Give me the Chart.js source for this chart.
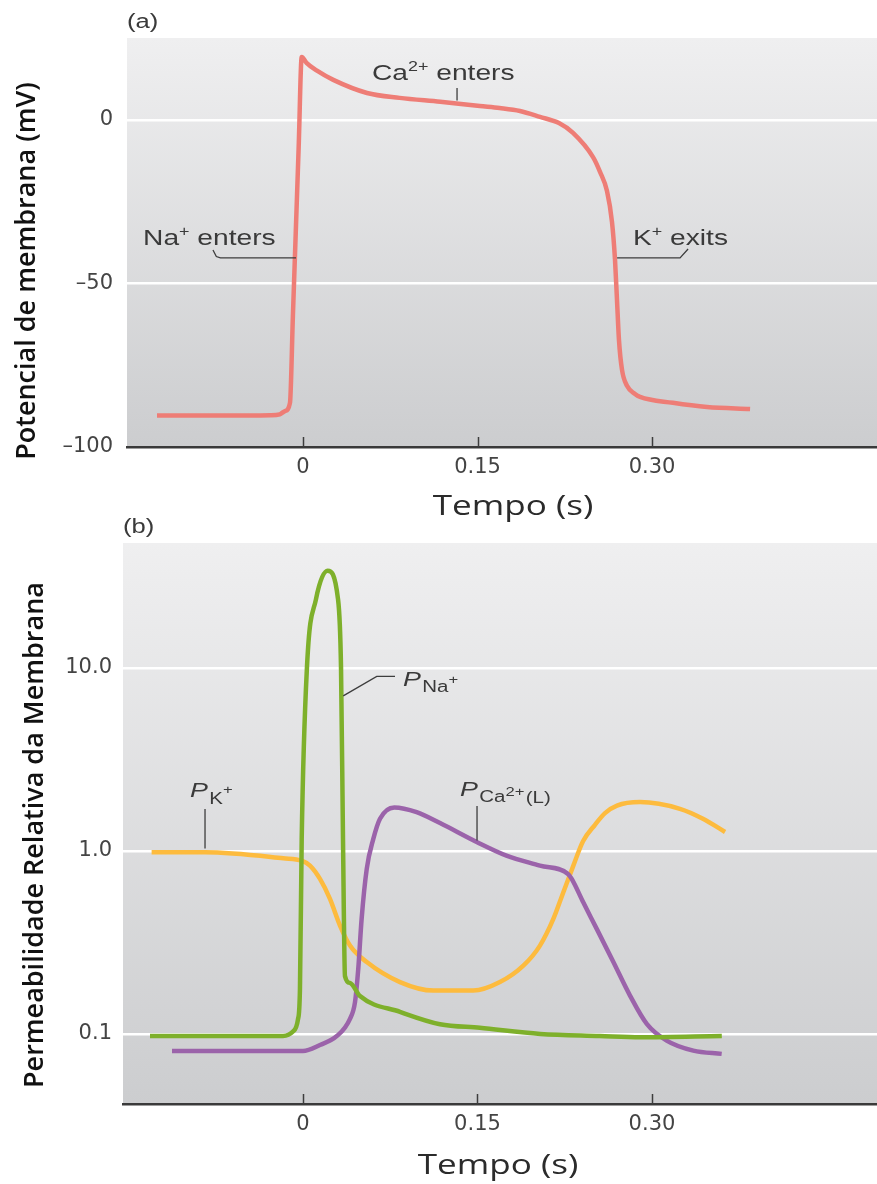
<!DOCTYPE html>
<html>
<head>
<meta charset="utf-8">
<title>Potencial de ação e permeabilidade</title>
<script src="https://cdn.jsdelivr.net/npm/chart.js@4.4.0/dist/chart.umd.min.js"></script>
<style>
  html, body { margin: 0; padding: 0; background: #fff; }
  .panel { position: absolute; left: 0; width: 877px; }
  canvas { display: block; }
</style>
</head>
<body>
<div class="panel" style="top:0;height:530px"><canvas id="chartA" width="877" height="530"></canvas></div>
<div class="panel" style="top:505px;height:679px"><canvas id="chartB" width="877" height="679"></canvas></div>
<script>
// Panel (a): membrane potential (mV) over time (s)
const timeA = [-0.1255, -0.07, -0.028, -0.02, -0.0155, -0.0112, -0.0087, -0.0062, -0.0037, -0.0011, 0.003, 0.012, 0.026, 0.055, 0.083, 0.118, 0.152, 0.169, 0.1865, 0.2037, 0.22, 0.2321, 0.2493, 0.2553, 0.2613, 0.2656, 0.2682, 0.2699, 0.2716, 0.2742, 0.2785, 0.2854, 0.2897, 0.318, 0.3473, 0.3843];
const potential = [-90.4, -90.4, -90.3, -90, -89, -86.5, -60, -34, -8, 19.2, 17.4, 15, 12.2, 8.2, 6.7, 5.5, 4.2, 3.6, 2.7, 0.9, -1, -4, -11.4, -15.9, -21.75, -31.2, -42.8, -55.1, -67.3, -76.4, -81.3, -83.8, -84.7, -86.5, -87.8, -88.4];
const yTicksA = [-100, -50, 0];
const yTickLabelsA = ['\u2013100', '\u201350', '0'];

// Panel (b): relative membrane permeabilities (log scale)
const timeNa = [-0.1315, -0.05, -0.0172, -0.0086, -0.0043, -0.0026, -0.0011, 0.0034, 0.0112, 0.0212, 0.0301, 0.0327, 0.0344, 0.0361, 0.0404, 0.049, 0.0834, 0.1178, 0.152, 0.204, 0.255, 0.29, 0.36];
const permNa = [0.0975, 0.0975, 0.0975, 0.103, 0.12, 0.176, 1.16, 10, 23.8, 34, 23.8, 10, 1.16, 0.207, 0.19, 0.161, 0.132, 0.113, 0.108, 0.1, 0.0975, 0.096, 0.0975];
const timeK = [-0.1301, -0.0842, -0.0169, -0.0011, 0.006, 0.0146, 0.0232, 0.0318, 0.0404, 0.0548, 0.0834, 0.112, 0.1464, 0.1693, 0.1894, 0.2037, 0.2152, 0.2238, 0.2324, 0.2407, 0.251, 0.2596, 0.2699, 0.2897, 0.324, 0.3438, 0.3628];
const permK = [0.984, 0.984, 0.912, 0.885, 0.831, 0.703, 0.547, 0.391, 0.304, 0.247, 0.192, 0.1725, 0.1725, 0.192, 0.236, 0.304, 0.425, 0.595, 0.831, 1.13, 1.39, 1.61, 1.77, 1.85, 1.70, 1.50, 1.27];
const timeCa = [-0.1126, -0.05, 0, 0.0146, 0.0292, 0.0404, 0.0447, 0.0475, 0.0504, 0.0548, 0.0604, 0.0662, 0.0785, 0.0977, 0.1178, 0.1493, 0.1749, 0.2037, 0.2278, 0.231, 0.2409, 0.2525, 0.2668, 0.2811, 0.2955, 0.3126, 0.3355, 0.3599];
const permCa = [0.0807, 0.0807, 0.0807, 0.087, 0.0975, 0.121, 0.149, 0.226, 0.425, 0.797, 1.16, 1.5, 1.73, 1.63, 1.42, 1.12, 0.943, 0.831, 0.749, 0.703, 0.524, 0.375, 0.247, 0.162, 0.1135, 0.0919, 0.081, 0.0778];
const yTicksB = [0.1, 1, 10];
const yTickLabelsB = ['0.1', '1.0', '10.0'];

// shared time axis
const xTicks = [0, 0.15, 0.30];
const xTickLabels = ['0', '0.15', '0.30'];

const TEXT_FONT = '"Liberation Sans", Arial, sans-serif';
const TEXT_SX = 1.28; // the source art uses a wide face
const INK = '#3a3a3a';

function toPoints(xs, ys) {
    return xs.map((x, i) => ({ x: x, y: ys[i] }));
}

// Draw a run of text pieces (sub/superscripts) starting at x, baseline y
function drawRich(ctx, x, y, parts) {
    ctx.save();
    ctx.translate(x, y);
    ctx.scale(TEXT_SX, 1);
    ctx.textAlign = 'left';
    ctx.textBaseline = 'alphabetic';
    let cx = 0;
    parts.forEach(p => {
        ctx.font = (p.italic ? 'italic ' : '') + p.size + 'px ' + TEXT_FONT;
        ctx.fillText(p.t, cx, p.dy || 0);
        cx += ctx.measureText(p.t).width + (p.gap || 0);
    });
    ctx.restore();
}

// Background, leader lines, labels, titles and inward tick marks
function makeDecor(cfg) {
    return {
        id: 'decor',
        beforeDraw(chart) {
            const { ctx, chartArea: a } = chart;
            const g = ctx.createLinearGradient(0, a.top, 0, a.bottom);
            g.addColorStop(0, '#efeff0');
            g.addColorStop(1, '#cccdcf');
            ctx.save();
            ctx.fillStyle = g;
            ctx.fillRect(a.left, a.top, a.right - a.left, a.bottom - a.top);
            ctx.restore();
        },
        afterDatasetsDraw(chart) {
            const { ctx, scales: { x, y } } = chart;
            ctx.save();
            ctx.strokeStyle = '#3d3d3d';
            ctx.lineWidth = 1.3;
            cfg.leaders.forEach(path => {
                ctx.beginPath();
                path.forEach(([t, v], i) => {
                    const px = x.getPixelForValue(t), py = y.getPixelForValue(v);
                    if (i) ctx.lineTo(px, py); else ctx.moveTo(px, py);
                });
                ctx.stroke();
            });
            ctx.fillStyle = INK;
            cfg.notes.forEach(n => drawRich(ctx, x.getPixelForValue(n.at[0]), y.getPixelForValue(n.at[1]), n.parts));
            ctx.restore();
        },
        afterDraw(chart) {
            const { ctx, chartArea: a, scales: { x } } = chart;
            ctx.save();
            // tick marks point up into the plot
            ctx.strokeStyle = '#3d3d3d';
            ctx.lineWidth = 1.5;
            xTicks.forEach(v => {
                const px = Math.round(x.getPixelForValue(v)) + 0.5;
                ctx.beginPath();
                ctx.moveTo(px, a.bottom);
                ctx.lineTo(px, a.bottom - 10);
                ctx.stroke();
            });
            ctx.textBaseline = 'middle';
            // panel letter
            ctx.save();
            ctx.fillStyle = INK;
            ctx.textAlign = 'left';
            ctx.translate(a.left, cfg.letterY);
            ctx.scale(TEXT_SX, 1);
            ctx.font = '20px ' + TEXT_FONT;
            ctx.fillText(cfg.letter, 0, 0);
            ctx.restore();
            // x axis title
            ctx.save();
            ctx.fillStyle = '#2b2b2b';
            ctx.translate(cfg.xTitle.x, cfg.xTitle.y);
            ctx.scale(1.3, 1);
            ctx.textAlign = 'center';
            ctx.font = '27px "Open Sans", sans-serif';
            ctx.fillText('Tempo (s)', 0, 0);
            ctx.restore();
            // y axis title
            ctx.save();
            ctx.fillStyle = '#111';
            ctx.translate(cfg.yTitle.x, cfg.yTitle.y);
            ctx.rotate(-Math.PI / 2);
            ctx.textAlign = 'center';
            ctx.font = '600 27px "Open Sans", sans-serif';
            ctx.fillText(cfg.yTitle.text, 0, 0);
            ctx.restore();
            ctx.restore();
        }
    };
}

function xScale(min, max, height) {
    return {
        type: 'linear',
        min: min,
        max: max,
        afterBuildTicks: s => { s.ticks = xTicks.map(v => ({ value: v })); },
        afterFit: s => { s.height = height; },
        ticks: {
            callback: (v, i) => xTickLabels[i],
            autoSkip: false,
            maxRotation: 0,
            padding: 8,
            color: '#444',
            font: { family: '"DejaVu Sans", sans-serif', size: 21 }
        },
        grid: { display: true, drawOnChartArea: false, drawTicks: false },
        border: { display: true, color: '#3a3a3a', width: 2.5 }
    };
}

function yScale(type, min, max, ticks, labels, width, pad, hideValue) {
    return {
        type: type,
        min: min,
        max: max,
        afterBuildTicks: s => { s.ticks = ticks.map(v => ({ value: v })); },
        afterFit: s => { s.width = width; },
        ticks: {
            callback: (v, i) => labels[i],
            padding: pad,
            color: '#444',
            font: { family: '"DejaVu Sans", sans-serif', size: 21 }
        },
        grid: {
            color: c => (c.tick && c.tick.value === hideValue) ? 'rgba(0,0,0,0)' : '#ffffff',
            lineWidth: 2.5,
            drawTicks: false
        },
        border: { display: false }
    };
}

const lineStyle = {
    pointRadius: 0,
    borderWidth: 4.5,
    fill: false,
    cubicInterpolationMode: 'monotone',
    borderJoinStyle: 'round'
};

// ---- panel (a) ----
const notesA = [
    { at: [0.0593, 12.2], parts: [{ t: 'Ca', size: 22 }, { t: '2+', size: 14, dy: -9 }, { t: ' enters', size: 22 }] },
    { at: [-0.1375, -38.25], parts: [{ t: 'Na', size: 22 }, { t: '+', size: 14, dy: -9 }, { t: ' enters', size: 22 }] },
    { at: [0.2837, -38.25], parts: [{ t: 'K', size: 22 }, { t: '+', size: 14, dy: -9 }, { t: ' exits', size: 22 }] }
];
const leadersA = [
    [[0.1324, 9.7], [0.1324, 5.9]],
    [[-0.0774, -39.8], [-0.0745, -41.8], [-0.071, -42.2], [-0.006, -42.2]],
    [[0.27, -42.2], [0.3241, -42.2], [0.331, -39.5]]
];

const chartA = new Chart(document.getElementById('chartA'), {
    type: 'line',
    data: {
        datasets: [Object.assign({ data: toPoints(timeA, potential), borderColor: '#ee7d76' }, lineStyle)]
    },
    options: {
        responsive: false,
        animation: false,
        events: [],
        layout: { padding: { top: 38, left: 0, right: 0, bottom: 0 } },
        plugins: { legend: { display: false }, tooltip: { enabled: false } },
        scales: {
            x: xScale(-0.1513, 0.4934, 83),
            y: yScale('linear', -100, 25, yTicksA, yTickLabelsA, 127, 14, -100)
        }
    },
    plugins: [makeDecor({
        notes: notesA,
        leaders: leadersA,
        letter: '(a)',
        letterY: 22,
        xTitle: { x: 513, y: 507 },
        yTitle: { text: 'Potencial de membrana (mV)', x: 27, y: 271 }
    })]
});

// ---- panel (b) ----
const notesB = [
    { at: [0.086, 7.97], parts: [{ t: 'P', size: 21, italic: true, gap: 1 }, { t: 'Na', size: 16, dy: 6 }, { t: '+', size: 13, dy: -2 }] },
    { at: [-0.0971, 1.97], parts: [{ t: 'P', size: 21, italic: true, gap: 1 }, { t: 'K', size: 16, dy: 7 }, { t: '+', size: 13, dy: -3 }] },
    { at: [0.135, 2.0], parts: [{ t: 'P', size: 21, italic: true, gap: 1 }, { t: 'Ca', size: 16, dy: 6 }, { t: '2+', size: 13, dy: 0, gap: 1 }, { t: '(L)', size: 16, dy: 7 }] }
];
const leadersB = [
    [[0.0346, 7.04], [0.0634, 8.99], [0.0791, 8.99]],
    [[-0.0842, 1.696], [-0.0842, 1.03]],
    [[0.1496, 1.76], [0.1496, 1.14]]
];

const chartB = new Chart(document.getElementById('chartB'), {
    type: 'line',
    data: {
        datasets: [
            Object.assign({ data: toPoints(timeNa, permNa), borderColor: '#7eb02b' }, lineStyle),
            Object.assign({ data: toPoints(timeCa, permCa), borderColor: '#9b63aa' }, lineStyle),
            Object.assign({ data: toPoints(timeK, permK), borderColor: '#fdbb3e' }, lineStyle)
        ]
    },
    options: {
        responsive: false,
        animation: false,
        events: [],
        layout: { padding: { top: 38, left: 0, right: 0, bottom: 0 } },
        plugins: { legend: { display: false }, tooltip: { enabled: false } },
        scales: {
            x: xScale(-0.1547, 0.4934, 80),
            y: yScale('logarithmic', 0.0414, 48.2, yTicksB, yTickLabelsB, 123, 11, null)
        }
    },
    plugins: [makeDecor({
        notes: notesB,
        leaders: leadersB,
        letter: '(b)',
        letterY: 22,
        xTitle: { x: 498, y: 661 },
        yTitle: { text: 'Permeabilidade Relativa da Membrana', x: 35, y: 330 }
    })]
});
</script>
</body>
</html>
